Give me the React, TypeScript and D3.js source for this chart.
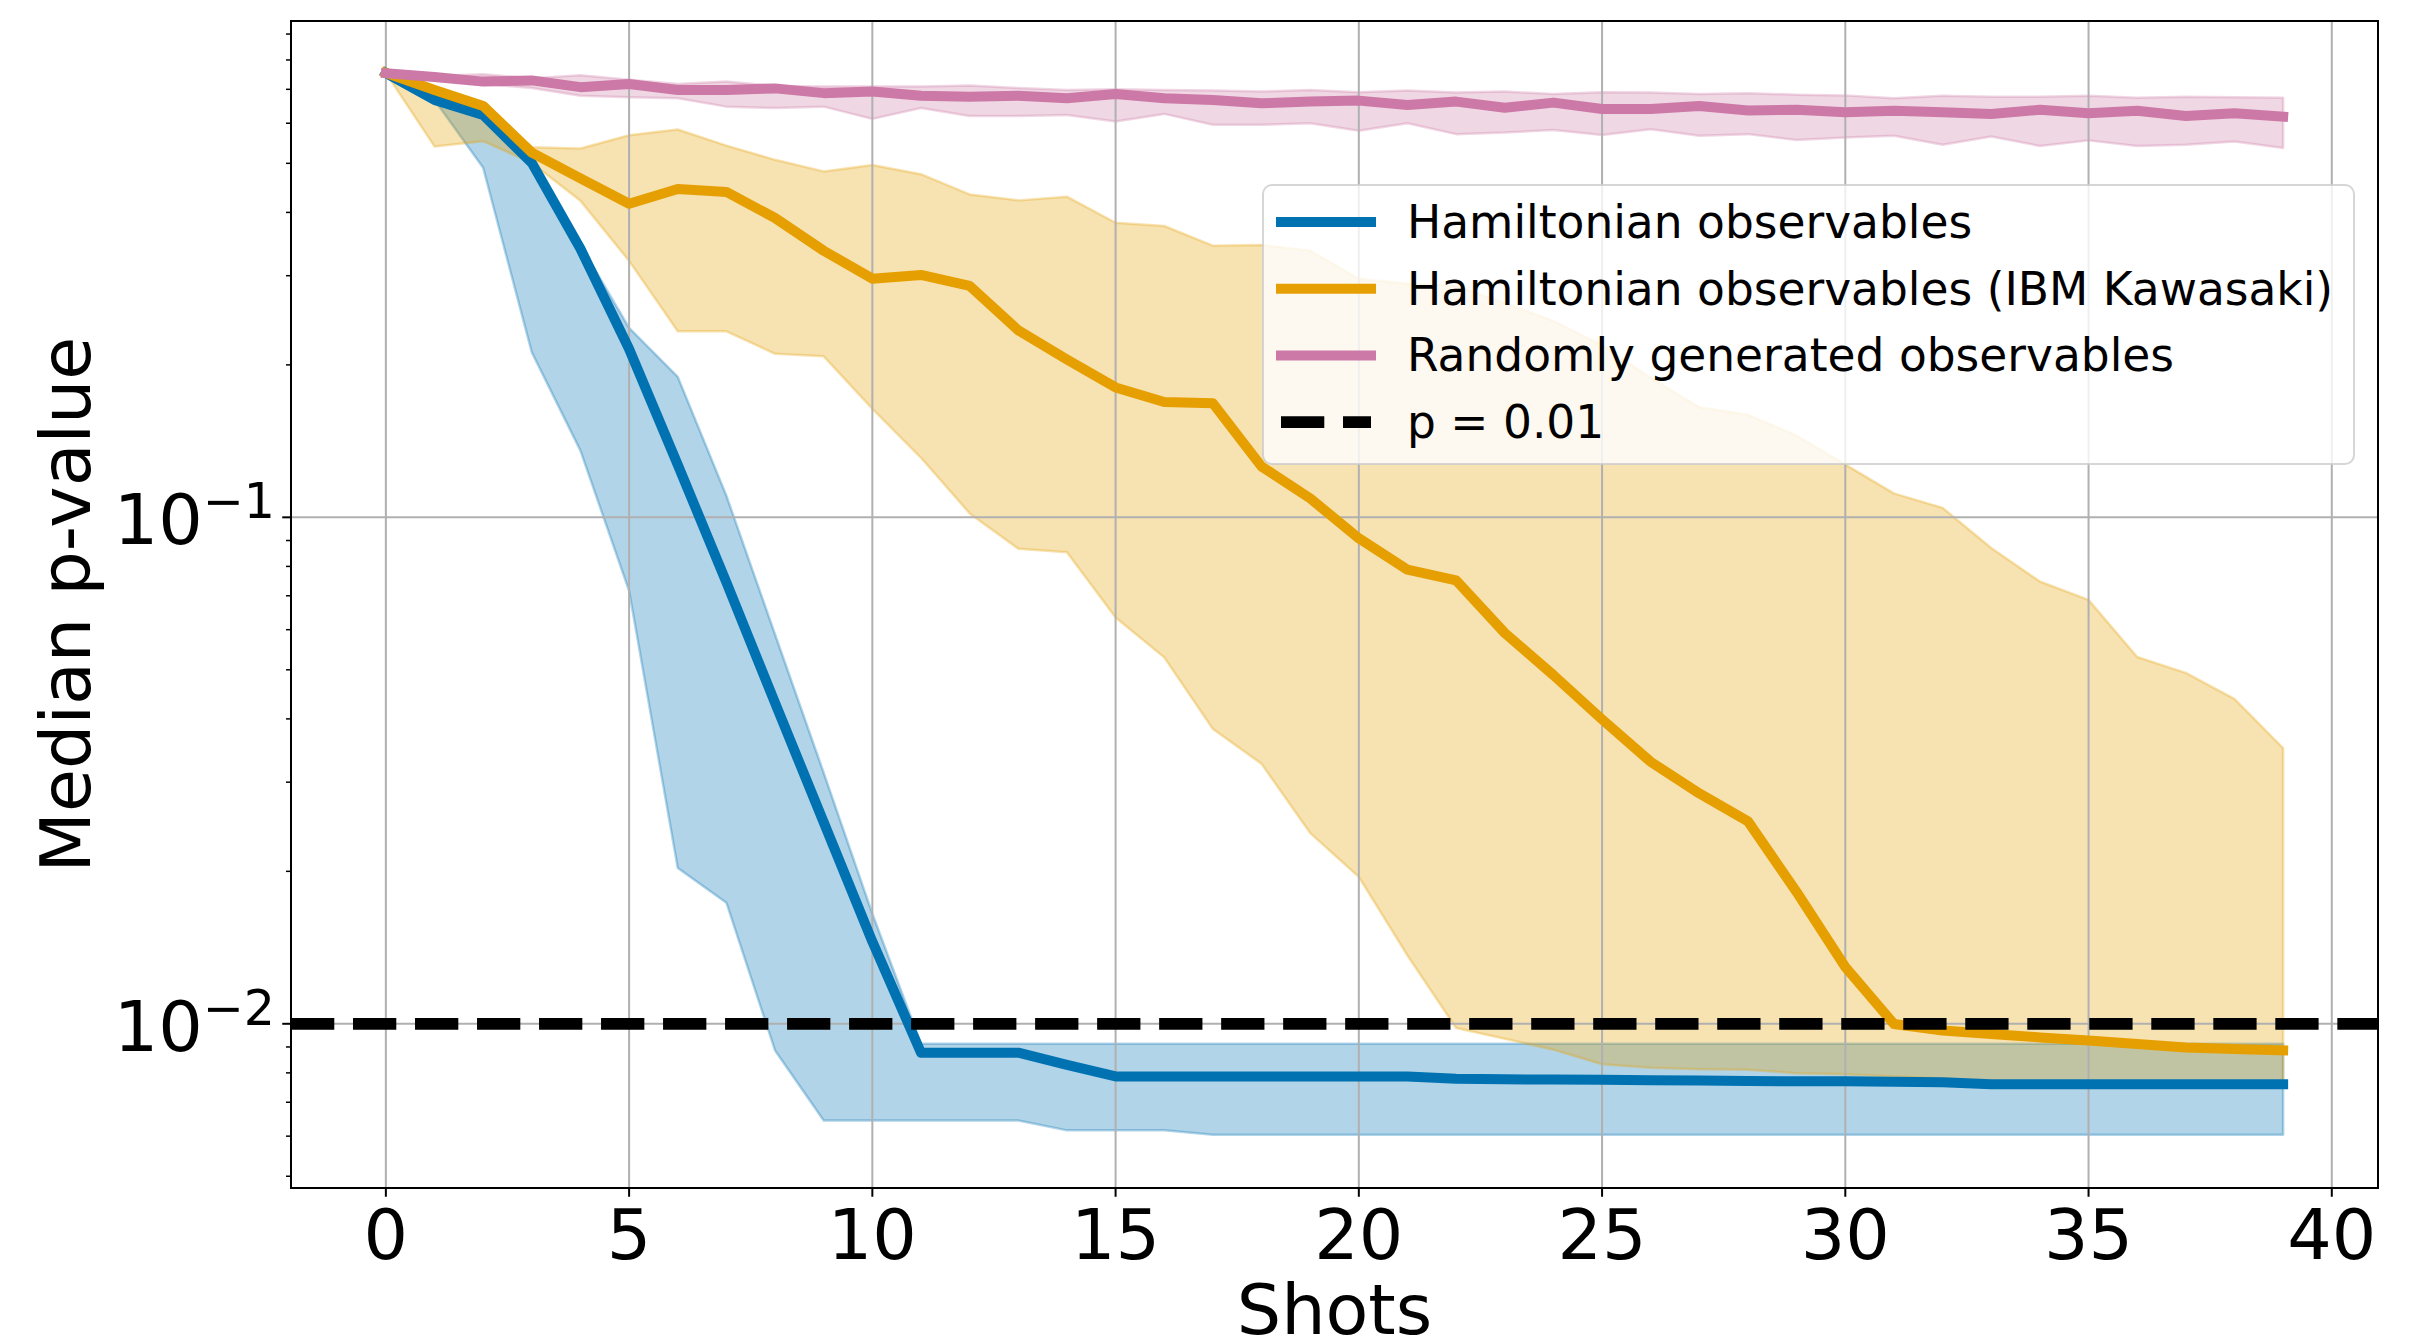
import React from 'react';
import * as d3 from 'd3';

// x positions (number of shots)
const shots = [0, 1, 2, 3, 4, 5, 6, 7, 8, 9, 10, 11, 12, 13, 14, 15, 16, 17, 18, 19,
  20, 21, 22, 23, 24, 25, 26, 27, 28, 29, 30, 31, 32, 33, 34, 35, 36, 37, 38, 39];

// Hamiltonian observables
const hamMedian = [0.754, 0.667, 0.623, 0.501, 0.339, 0.215, 0.127, 0.0744, 0.043, 0.025,
  0.01453, 0.00877, 0.00877, 0.00877, 0.0083, 0.00787, 0.00787, 0.00787, 0.00787, 0.00787,
  0.00787, 0.00787, 0.00779, 0.00777, 0.00776, 0.00775, 0.00774, 0.00773, 0.00771, 0.0077,
  0.0077, 0.00768, 0.00767, 0.0076, 0.0076, 0.0076, 0.0076, 0.0076, 0.0076, 0.0076];
const hamLower = [0.754, 0.667, 0.49, 0.2117, 0.1354, 0.0716, 0.0203, 0.01734, 0.00886, 0.00644,
  0.00644, 0.00644, 0.00644, 0.00644, 0.00616, 0.00616, 0.00616, 0.00604, 0.00604, 0.00604,
  0.00604, 0.00604, 0.00604, 0.00604, 0.00604, 0.00604, 0.00604, 0.00604, 0.00604, 0.00604,
  0.00604, 0.00604, 0.00604, 0.00604, 0.00604, 0.00604, 0.00604, 0.00604, 0.00604, 0.00604];
const hamUpper = [0.754, 0.667, 0.623, 0.501, 0.345, 0.2366, 0.1894, 0.1103, 0.0587, 0.0313,
  0.0165, 0.00913, 0.00913, 0.00913, 0.00913, 0.00913, 0.00913, 0.00913, 0.00913, 0.00913,
  0.00913, 0.00913, 0.00913, 0.00913, 0.00913, 0.00913, 0.00913, 0.00913, 0.00913, 0.00913,
  0.00913, 0.00913, 0.00913, 0.00913, 0.00913, 0.00913, 0.00913, 0.00913, 0.00913, 0.00913];

// Hamiltonian observables (IBM Kawasaki)
const ibmMedian = [0.754, 0.698, 0.649, 0.525, 0.467, 0.416, 0.445, 0.439, 0.39, 0.336,
  0.296, 0.301, 0.2865, 0.234, 0.205, 0.1805, 0.169, 0.168, 0.126, 0.109,
  0.0909, 0.0788, 0.0751, 0.0591, 0.0488, 0.0399, 0.0329, 0.0285, 0.0251, 0.0182,
  0.01295, 0.00999, 0.0097, 0.00955, 0.0094, 0.00927, 0.00912, 0.00898, 0.00892, 0.00886];
const ibmLower = [0.754, 0.54, 0.553, 0.501, 0.4216, 0.3209, 0.233, 0.233, 0.2103, 0.2079,
  0.1638, 0.1311, 0.1018, 0.0867, 0.0853, 0.0634, 0.0529, 0.0382, 0.0326, 0.0238,
  0.0195, 0.01364, 0.00981, 0.00934, 0.00889, 0.00832, 0.00819, 0.00813, 0.00811, 0.00799,
  0.00795, 0.00787, 0.0078, 0.0077, 0.0077, 0.0077, 0.0077, 0.0077, 0.0077, 0.0077];
const ibmUpper = [0.754, 0.705, 0.655, 0.538, 0.535, 0.568, 0.583, 0.542, 0.508, 0.482,
  0.496, 0.476, 0.434, 0.4225, 0.4297, 0.3816, 0.376, 0.3438, 0.3449, 0.3362,
  0.2959, 0.2893, 0.2866, 0.2647, 0.2443, 0.2186, 0.1885, 0.1649, 0.1594, 0.145,
  0.1271, 0.1115, 0.1044, 0.087, 0.0747, 0.0687, 0.053, 0.0493, 0.0438, 0.035];

// Randomly generated observables
const rndMedian = [0.753, 0.74, 0.725, 0.729, 0.707, 0.717, 0.698, 0.698, 0.703, 0.688,
  0.693, 0.68, 0.677, 0.68, 0.672, 0.685, 0.672, 0.667, 0.657, 0.662,
  0.665, 0.652, 0.662, 0.644, 0.659, 0.64, 0.64, 0.649, 0.636, 0.638,
  0.631, 0.635, 0.631, 0.626, 0.638, 0.628, 0.635, 0.62, 0.628, 0.618];
const rndLower = [0.753, 0.731, 0.718, 0.704, 0.68, 0.675, 0.672, 0.647, 0.643, 0.647,
  0.612, 0.643, 0.62, 0.62, 0.623, 0.605, 0.626, 0.596, 0.596, 0.6,
  0.58, 0.6, 0.571, 0.575, 0.582, 0.569, 0.584, 0.567, 0.571, 0.556,
  0.562, 0.567, 0.544, 0.565, 0.541, 0.555, 0.541, 0.544, 0.552, 0.536];
const rndUpper = [0.753, 0.744, 0.75, 0.736, 0.746, 0.731, 0.717, 0.725, 0.711, 0.709,
  0.709, 0.709, 0.712, 0.704, 0.698, 0.7, 0.698, 0.696, 0.693, 0.698,
  0.691, 0.696, 0.69, 0.693, 0.685, 0.691, 0.69, 0.685, 0.688, 0.683,
  0.681, 0.672, 0.68, 0.677, 0.677, 0.68, 0.674, 0.677, 0.675, 0.674];

const threshold = 0.01;
const xTicks = [0, 5, 10, 15, 20, 25, 30, 35, 40];
const yMajor = [0.01, 0.1];
const yMajorExp = ['\u22122', '\u22121'];
const legendLabels = [
  'Hamiltonian observables',
  'Hamiltonian observables (IBM Kawasaki)',
  'Randomly generated observables',
  'p = 0.01',
];

const FONT = "'DejaVu Sans', sans-serif";

export default function App() {
  const W = 2419, H = 1339;
  const left = 291, right = 2378, top = 21, bottom = 1188;

  const x = d3.scaleLinear().domain([-1.95, 40.95]).range([left, right]);
  const y = d3.scaleLog().domain([0.00474, 0.955]).range([bottom, top]);

  const series = [
    { color: '#0072B2', median: hamMedian, lower: hamLower, upper: hamUpper },
    { color: '#E69F00', median: ibmMedian, lower: ibmLower, upper: ibmUpper },
    { color: '#CC79A7', median: rndMedian, lower: rndLower, upper: rndUpper },
  ];

  const line = d3.line<number>().x((_, i) => x(shots[i])).y(d => y(d));
  const band = (lo: number[], hi: number[]) =>
    d3.area<number>().x(i => x(shots[i])).y0(i => y(lo[i])).y1(i => y(hi[i]))(shots.map((_, i) => i));

  const isMajor = (t: number) => Math.abs(Math.log10(t) - Math.round(Math.log10(t))) < 1e-9;
  const yMinor = y.ticks().filter(t => !isMajor(t));

  const lw = 10;
  const dashW = 11.7;

  // legend layout
  const lg = { x: 1263, y: 185, w: 1091, h: 279 };
  const rowY = (i: number) => 222 + i * 66.7;

  return (
    <div style={{ position: 'absolute', left: 0, top: 0 }}>
      <svg width={W} height={H} style={{ display: 'block', background: '#fff' }} fontFamily={FONT}>
        <defs>
          <clipPath id="plot">
            <rect x={left} y={top} width={right - left} height={bottom - top} />
          </clipPath>
        </defs>

        <g clipPath="url(#plot)">
          {series.map((s, i) => (
            <path key={'b' + i} d={band(s.lower, s.upper) || ''} fill={s.color} fillOpacity={0.3}
              stroke={s.color} strokeOpacity={0.3} strokeWidth={2.5} strokeLinejoin="round" />
          ))}

          {xTicks.map(t => (
            <line key={'gx' + t} x1={x(t)} x2={x(t)} y1={top} y2={bottom} stroke="#b0b0b0" strokeWidth={2} />
          ))}
          {yMajor.map(t => (
            <line key={'gy' + t} x1={left} x2={right} y1={y(t)} y2={y(t)} stroke="#b0b0b0" strokeWidth={2} />
          ))}

          {series.map((s, i) => (
            <path key={'l' + i} d={line(s.median) || ''} fill="none" stroke={s.color} strokeWidth={lw}
              strokeLinecap="square" strokeLinejoin="round" />
          ))}

          <line x1={left} x2={right} y1={y(threshold)} y2={y(threshold)} stroke="#000" strokeWidth={dashW}
            strokeDasharray={`${3.7 * dashW} ${1.6 * dashW}`} />
        </g>

        {/* spines */}
        <rect x={left} y={top} width={right - left} height={bottom - top} fill="none" stroke="#000" strokeWidth={2} />

        {/* x ticks */}
        {xTicks.map(t => (
          <g key={'xt' + t}>
            <line x1={x(t)} x2={x(t)} y1={bottom} y2={bottom + 8.75} stroke="#000" strokeWidth={2} />
            <text x={x(t)} y={1259} textAnchor="middle" fontSize={70}>{t}</text>
          </g>
        ))}

        {/* y ticks */}
        {yMajor.map((t, i) => (
          <g key={'yt' + t}>
            <line x1={left - 8.75} x2={left} y1={y(t)} y2={y(t)} stroke="#000" strokeWidth={2} />
            <text x={275} y={y(t) + 27} textAnchor="end" fontSize={70}>
              10<tspan dy={-26} fontSize={49}>{yMajorExp[i]}</tspan>
            </text>
          </g>
        ))}
        {yMinor.map(t => (
          <line key={'ym' + t} x1={left - 5} x2={left} y1={y(t)} y2={y(t)} stroke="#000" strokeWidth={1.5} />
        ))}

        {/* axis labels */}
        <text x={(left + right) / 2} y={1334} textAnchor="middle" fontSize={70}>Shots</text>
        <text transform={`translate(90, ${(top + bottom) / 2}) rotate(-90)`} textAnchor="middle" fontSize={70}>
          Median p-value
        </text>

        {/* legend */}
        <rect x={lg.x} y={lg.y} width={lg.w} height={lg.h} rx={9} ry={9} fill="#fff" fillOpacity={0.8}
          stroke="#cccccc" strokeOpacity={0.8} strokeWidth={2} />
        {series.map((s, i) => (
          <line key={'lh' + i} x1={1281} x2={1371} y1={rowY(i)} y2={rowY(i)} stroke={s.color} strokeWidth={lw}
            strokeLinecap="square" />
        ))}
        <line x1={1281} x2={1371} y1={rowY(3)} y2={rowY(3)} stroke="#000" strokeWidth={dashW}
          strokeDasharray={`${3.7 * dashW} ${1.6 * dashW}`} />
        {legendLabels.map((t, i) => (
          <text key={'lt' + i} x={1407} y={rowY(i) + 16} fontSize={45.5}>{t}</text>
        ))}
      </svg>
    </div>
  );
}
